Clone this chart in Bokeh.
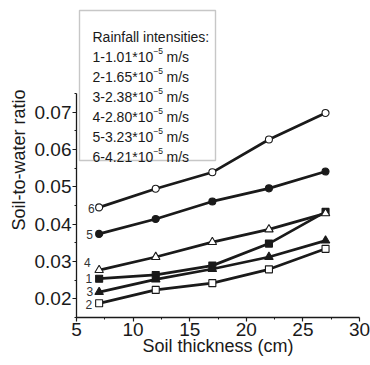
from bokeh.plotting import figure
from bokeh.models import FixedTicker, BoxAnnotation, Label, ColumnDataSource, Range1d
from bokeh.embed import file_html
from bokeh.resources import INLINE
from bokeh.core.properties import value

# ---- data ----
thickness = [7, 12, 17, 22, 27]
s1 = [0.0254, 0.0264, 0.0289, 0.0348, 0.0433]
s2 = [0.0188, 0.0224, 0.0242, 0.0279, 0.0334]
s3 = [0.0218, 0.0252, 0.0280, 0.0312, 0.0356]
s4 = [0.0277, 0.0312, 0.0352, 0.0386, 0.0429]
s5 = [0.0374, 0.0414, 0.0461, 0.0496, 0.0541]
s6 = [0.0445, 0.0495, 0.0539, 0.0627, 0.0698]
series_ids = ["1", "2", "3", "4", "5", "6"]
intensities = ["1.01", "1.65", "2.38", "2.80", "3.23", "4.21"]
x_ticks = [5, 10, 15, 20, 25, 30]
x_tick_labels = ["5", "10", "15", "20", "25", "30"]
y_ticks = [0.02, 0.03, 0.04, 0.05, 0.06, 0.07]
y_tick_labels = ["0.02", "0.03", "0.04", "0.05", "0.06", "0.07"]

FONT = "Liberation Sans"
INK = "#1a1a1a"

p = figure(width=370, height=365,
           x_range=Range1d(5, 30), y_range=Range1d(0.015, 0.0994),
           output_backend="svg", toolbar_location=None,
           min_border_left=76, min_border_right=11,
           min_border_top=2, min_border_bottom=48)
p.outline_line_color = None
p.grid.visible = False
p.background_fill_color = "white"
p.border_fill_color = "white"

x_minor = [(a + b) / 2 for a, b in zip(x_ticks[:-1], x_ticks[1:])]
y_step = y_ticks[1] - y_ticks[0]
y_minor = [t - y_step / 2 for t in y_ticks] + [y_ticks[-1] + y_step / 2]

p.xaxis.ticker = FixedTicker(ticks=x_ticks, minor_ticks=x_minor)
p.yaxis.ticker = FixedTicker(ticks=y_ticks, minor_ticks=y_minor)
p.xaxis.major_label_overrides = dict(zip(x_ticks, x_tick_labels))
p.yaxis.major_label_overrides = dict(zip(y_ticks, y_tick_labels))
p.yaxis.bounds = (y_minor[0], y_minor[-1])

for ax in (p.xaxis[0], p.yaxis[0]):
    ax.axis_line_color = INK
    ax.axis_line_width = 1.3
    ax.major_tick_line_color = INK
    ax.minor_tick_line_color = INK
    ax.major_tick_line_width = 1.2
    ax.minor_tick_line_width = 1.0
    ax.major_tick_out = 4
    ax.major_tick_in = 0
    ax.minor_tick_out = 2
    ax.minor_tick_in = 0
    ax.major_label_text_font = FONT
    ax.major_label_text_font_size = "19px"
    ax.major_label_text_color = INK
    ax.axis_label_text_font = FONT
    ax.axis_label_text_font_size = "18px"
    ax.axis_label_text_font_style = "normal"
    ax.axis_label_text_color = INK

p.xaxis.axis_label = "Soil thickness (cm)"
p.yaxis.axis_label = "Soil-to-water ratio"
p.xaxis.major_label_standoff = 1
p.xaxis.axis_label_standoff = -3
p.yaxis.major_label_standoff = 1
p.yaxis.axis_label_standoff = 3

series = [s1, s2, s3, s4, s5, s6]
markers = ["square", "square", "triangle", "triangle", "circle", "circle"]
fills = [INK, "white", INK, "white", INK, "white"]
sizes = [7, 7, 8.5, 8.5, 7, 7]

for ys, mk, fc, sz in zip(series, markers, fills, sizes):
    p.line(thickness, ys, line_color=INK, line_width=2.7)
    p.scatter(thickness, ys, marker=mk, size=sz, fill_color=fc,
              line_color=INK, line_width=1.1)

# series number labels next to first points
lab_src = ColumnDataSource(dict(
    x=[thickness[0]] * 6,
    y=[s[0] for s in series],
    t=series_ids,
    xo=[-10.3, -10.3, -9.3, -11.9, -9.6, -7.9],
    yo=[-0.4, 1.6, -1.0, -8.0, 0.6, 0.7],
))
p.text(x="x", y="y", text="t", x_offset="xo", y_offset="yo", source=lab_src,
       text_font=value(FONT), text_font_size="12px", text_color="#333333",
       text_align="center", text_baseline="middle")

# legend box (frame-relative screen units, y up from frame bottom)
box = BoxAnnotation(left=3, right=139, top=307, bottom=157,
                    left_units="screen", right_units="screen",
                    top_units="screen", bottom_units="screen",
                    fill_color="white", fill_alpha=1.0,
                    line_color="#444444", line_width=1.4)
p.add_layout(box)

tx = 16
base0 = 280.7  # baseline of the title line
p.add_layout(Label(x=tx, y=base0, x_units="screen", y_units="screen",
                   text="Rainfall intensities:", text_font=FONT,
                   text_font_size="14px", text_color=INK,
                   text_baseline="alphabetic"))
for i, (sid, val) in enumerate(zip(series_ids, intensities)):
    yb = base0 - 20 * (i + 1)
    main = f"{sid}-{val}*10"
    p.add_layout(Label(x=tx, y=yb, x_units="screen", y_units="screen",
                       text=main, text_font=FONT, text_font_size="14px",
                       text_color=INK, text_baseline="alphabetic"))
    p.add_layout(Label(x=tx + 60.9, y=yb + 6, x_units="screen", y_units="screen",
                       text="\u22125", text_font=FONT, text_font_size="8.5px",
                       text_color=INK, text_baseline="alphabetic"))
    p.add_layout(Label(x=tx + 74, y=yb, x_units="screen", y_units="screen",
                       text="m/s", text_font=FONT, text_font_size="14px",
                       text_color=INK, text_baseline="alphabetic"))

open("out.html", "w").write(file_html(p, INLINE))
